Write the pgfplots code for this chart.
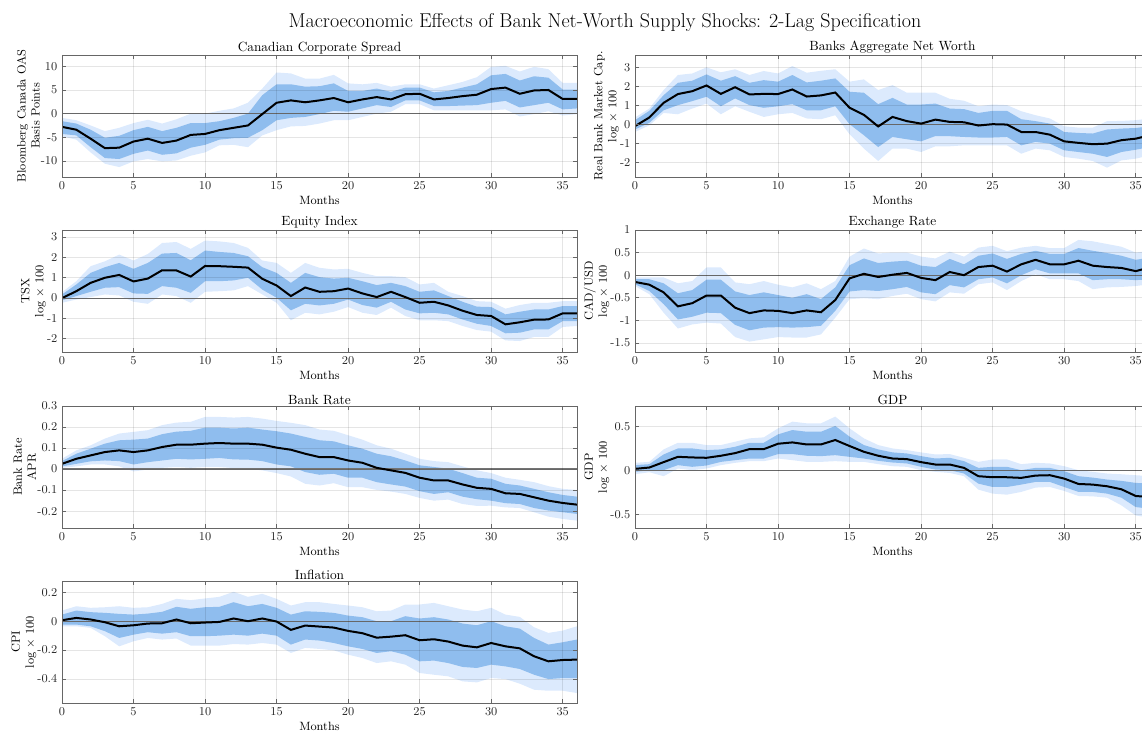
\documentclass[border=0pt]{standalone}
\usepackage{pgfplots}
\usepackage{pgfplotstable}
\pgfplotsset{compat=1.18}
\usepgfplotslibrary{fillbetween}
\definecolor{darkband}{RGB}{143,189,238}
\definecolor{lightband}{RGB}{220,234,253}

\pgfplotstableread{
x m dl du ll lu
0 -2.8 -4.3 -1.6 -4.8 -0.9
1 -3.4 -4.6 -2.1 -5.5 -1.4
2 -5.3 -7.1 -3.4 -8.2 -2.5
3 -7.3 -9.4 -5.1 -10.6 -3.7
4 -7.2 -9.6 -4.7 -11.3 -3.0
5 -5.9 -8.5 -3.5 -10.1 -2.0
6 -5.3 -7.8 -2.8 -9.6 -1.3
7 -6.2 -8.7 -3.7 -10.1 -2.1
8 -5.7 -8.4 -3.0 -9.9 -1.2
9 -4.5 -7.2 -2.0 -8.9 0.0
10 -4.3 -6.6 -2.0 -8.2 0.0
11 -3.5 -5.5 -1.6 -6.7 0.6
12 -3.0 -5.2 -0.9 -6.6 1.1
13 -2.5 -5.1 0.0 -7.1 2.3
14 -0.1 -3.5 3.9 -4.6 5.3
15 2.3 -1.4 6.2 -3.5 8.7
16 2.8 -0.9 6.2 -2.7 8.5
17 2.4 -0.7 5.7 -2.6 7.4
18 2.8 -0.1 5.8 -2.1 7.4
19 3.3 0.6 6.4 -1.4 8.2
20 2.4 0.4 4.8 -1.4 6.4
21 3.0 1.1 4.8 -0.7 6.2
22 3.5 1.8 5.3 0.0 6.5
23 3.0 1.4 4.6 0.4 5.7
24 4.1 2.8 5.5 2.0 6.2
25 4.2 2.8 5.5 2.0 6.2
26 3.0 1.6 4.5 0.7 5.3
27 3.3 1.6 4.8 0.7 6.0
28 3.7 1.7 5.5 0.7 6.7
29 4.0 1.8 6.2 0.7 7.7
30 5.2 2.3 8.1 0.7 9.9
31 5.5 2.7 8.4 0.9 10.1
32 4.2 1.3 7.0 -0.6 8.9
33 4.9 1.8 7.9 -0.1 9.9
34 5.0 2.3 7.6 0.5 9.4
35 3.1 0.9 5.1 -0.4 6.5
36 3.1 1.1 5.1 -0.1 6.5
}\tCS

\pgfplotstableread{
x m dl du ll lu
0 -0.08 -0.26 0.23 -0.39 0.37
1 0.37 0.09 0.72 -0.04 0.84
2 1.14 0.75 1.54 0.61 1.81
3 1.6 1.02 2.19 0.54 2.6
4 1.75 1.23 2.3 0.84 2.68
5 2.05 1.46 2.63 1.1 3.0
6 1.61 0.96 2.3 0.54 2.74
7 1.96 1.37 2.54 0.96 2.9
8 1.58 1.02 2.19 0.67 2.6
9 1.61 0.88 2.33 0.4 2.81
10 1.6 0.96 2.25 0.54 2.68
11 1.84 1.07 2.6 0.61 3.07
12 1.47 0.75 2.21 0.32 2.72
13 1.53 0.75 2.3 0.28 2.82
14 1.68 0.96 2.42 0.49 2.9
15 0.88 0.02 1.72 -0.51 2.25
16 0.51 -0.56 1.67 -1.26 2.37
17 -0.1 -1.18 1.07 -1.91 1.81
18 0.4 -0.65 1.4 -1.26 2.07
19 0.18 -0.77 1.05 -1.26 1.67
20 0.05 -0.88 1.05 -1.44 1.67
21 0.26 -0.6 1.1 -1.14 1.67
22 0.14 -0.61 0.84 -1.14 1.35
23 0.12 -0.65 0.81 -1.09 1.25
24 -0.05 -0.68 0.61 -1.09 0.96
25 0.02 -0.68 0.72 -1.09 1.05
26 0.0 -0.65 0.72 -1.09 1.02
27 -0.39 -1.09 0.28 -1.53 0.7
28 -0.39 -0.91 0.18 -1.26 0.49
29 -0.53 -1.0 0.05 -1.35 0.32
30 -0.88 -1.35 -0.39 -1.7 -0.09
31 -0.96 -1.44 -0.44 -1.79 -0.16
32 -1.03 -1.53 -0.47 -1.91 -0.16
33 -1.0 -1.7 -0.26 -2.26 0.18
34 -0.82 -1.44 -0.21 -1.88 0.19
35 -0.74 -1.32 -0.18 -1.79 0.23
36 -0.56 -1.18 -0.09 -1.61 0.32
}\tNW

\pgfplotstableread{
x m dl du ll lu
0 0 -0.11 0.18 -0.23 0.29
1 0.34 0.1 0.67 -0.07 0.83
2 0.75 0.31 1.24 0.05 1.57
3 1.0 0.51 1.52 0.18 1.81
4 1.14 0.54 1.73 0.13 2.14
5 0.82 0.23 1.44 -0.18 1.85
6 0.96 0.21 1.73 -0.28 2.17
7 1.37 0.59 2.19 0.18 2.71
8 1.36 0.51 2.22 0.1 2.76
9 1.06 0.26 1.86 -0.23 2.42
10 1.58 0.83 2.34 0.31 2.83
11 1.57 0.83 2.27 0.34 2.79
12 1.54 0.87 2.22 0.38 2.71
13 1.5 1.0 2.06 0.59 2.47
14 0.95 0.42 1.52 0.18 1.85
15 0.62 0.02 1.24 -0.23 1.73
16 0.1 -0.6 0.75 -1.09 1.24
17 0.52 -0.28 1.24 -0.72 1.73
18 0.31 -0.36 1.03 -0.8 1.49
19 0.34 -0.28 0.96 -0.67 1.41
20 0.47 -0.07 1.0 -0.44 1.44
21 0.23 -0.34 0.83 -0.72 1.24
22 0.05 -0.47 0.64 -0.83 1.08
23 0.31 -0.18 0.75 -0.47 1.08
24 0.05 -0.56 0.59 -0.88 1.03
25 -0.23 -0.75 0.31 -1.09 0.67
26 -0.18 -0.72 0.38 -1.09 0.75
27 -0.36 -0.8 0.1 -1.13 0.31
28 -0.62 -1.05 -0.18 -1.37 0.1
29 -0.83 -1.26 -0.42 -1.57 -0.15
30 -0.88 -1.37 -0.44 -1.65 -0.18
31 -1.29 -1.73 -0.8 -2.08 -0.52
32 -1.19 -1.7 -0.67 -2.11 -0.34
33 -1.06 -1.54 -0.56 -1.91 -0.23
34 -1.05 -1.54 -0.56 -1.91 -0.23
35 -0.75 -1.13 -0.39 -1.42 -0.15
36 -0.75 -1.13 -0.39 -1.37 -0.15
}\tEQ

\pgfplotstableread{
x m dl du ll lu
0 -0.15 -0.2 -0.09 -0.24 -0.05
1 -0.21 -0.35 -0.09 -0.42 -0.05
2 -0.38 -0.64 -0.18 -0.83 -0.05
3 -0.69 -0.98 -0.4 -1.18 -0.18
4 -0.62 -0.92 -0.33 -1.09 -0.13
5 -0.45 -0.83 -0.1 -1.05 0.17
6 -0.45 -0.84 -0.1 -1.07 0.17
7 -0.72 -1.1 -0.36 -1.37 -0.16
8 -0.84 -1.22 -0.44 -1.47 -0.2
9 -0.78 -1.16 -0.38 -1.42 -0.13
10 -0.79 -1.15 -0.44 -1.37 -0.21
11 -0.84 -1.16 -0.5 -1.38 -0.27
12 -0.78 -1.15 -0.42 -1.38 -0.18
13 -0.82 -1.12 -0.53 -1.31 -0.31
14 -0.55 -0.79 -0.27 -0.94 -0.13
15 -0.07 -0.36 0.22 -0.53 0.41
16 0.03 -0.33 0.37 -0.51 0.59
17 -0.04 -0.35 0.27 -0.53 0.48
18 0.01 -0.31 0.3 -0.46 0.5
19 0.05 -0.26 0.32 -0.41 0.5
20 -0.06 -0.38 0.21 -0.53 0.41
21 -0.11 -0.42 0.18 -0.58 0.37
22 0.07 -0.22 0.36 -0.38 0.52
23 0.0 -0.27 0.24 -0.41 0.41
24 0.18 -0.09 0.43 -0.2 0.61
25 0.21 -0.05 0.48 -0.16 0.65
26 0.08 -0.18 0.36 -0.33 0.53
27 0.24 0.0 0.47 -0.13 0.61
28 0.34 0.13 0.54 0.02 0.65
29 0.24 0.04 0.47 -0.09 0.6
30 0.24 0.04 0.47 -0.09 0.6
31 0.32 0.04 0.6 -0.13 0.78
32 0.21 -0.11 0.54 -0.31 0.75
33 0.18 -0.09 0.49 -0.27 0.69
34 0.16 -0.09 0.43 -0.26 0.63
35 0.09 -0.11 0.34 -0.24 0.5
36 0.17 -0.09 0.39 -0.2 0.54
}\tFX

\pgfplotstableread{
x m dl du ll lu
0 0.025 0.013 0.038 0.006 0.049
1 0.049 0.025 0.073 0.013 0.089
2 0.065 0.037 0.097 0.022 0.113
3 0.081 0.041 0.121 0.022 0.145
4 0.089 0.038 0.137 0.013 0.169
5 0.081 0.022 0.14 -0.011 0.177
6 0.089 0.033 0.145 -0.002 0.185
7 0.105 0.041 0.166 0.006 0.209
8 0.116 0.049 0.178 0.01 0.221
9 0.116 0.046 0.182 0.006 0.225
10 0.121 0.049 0.197 0.01 0.248
11 0.124 0.053 0.197 0.01 0.248
12 0.121 0.046 0.193 0.005 0.245
13 0.121 0.045 0.197 0.002 0.248
14 0.116 0.038 0.188 -0.006 0.24
15 0.102 0.022 0.18 -0.019 0.229
16 0.092 0.013 0.169 -0.035 0.22
17 0.073 -0.014 0.153 -0.07 0.209
18 0.057 -0.027 0.137 -0.078 0.188
19 0.057 -0.022 0.132 -0.067 0.182
20 0.041 -0.041 0.113 -0.086 0.161
21 0.03 -0.041 0.097 -0.086 0.14
22 0.006 -0.062 0.073 -0.099 0.113
23 -0.006 -0.073 0.061 -0.107 0.097
24 -0.018 -0.083 0.041 -0.118 0.073
25 -0.041 -0.105 0.018 -0.137 0.049
26 -0.054 -0.118 0.01 -0.15 0.038
27 -0.054 -0.11 0.002 -0.145 0.033
28 -0.073 -0.131 -0.019 -0.166 0.013
29 -0.089 -0.143 -0.041 -0.175 -0.006
30 -0.094 -0.15 -0.046 -0.174 -0.019
31 -0.115 -0.162 -0.07 -0.182 -0.041
32 -0.118 -0.166 -0.078 -0.185 -0.051
33 -0.134 -0.185 -0.094 -0.205 -0.062
34 -0.15 -0.197 -0.11 -0.226 -0.081
35 -0.161 -0.205 -0.123 -0.237 -0.094
36 -0.169 -0.213 -0.131 -0.245 -0.099
}\tBR

\pgfplotstableread{
x m dl du ll lu
0 0.019 -0.015 0.061 -0.042 0.087
1 0.034 0.004 0.072 -0.019 0.098
2 0.095 0.004 0.182 -0.064 0.239
3 0.155 0.061 0.25 0.023 0.314
4 0.148 0.042 0.25 0.004 0.314
5 0.144 0.057 0.231 0.023 0.288
6 0.167 0.098 0.239 0.061 0.288
7 0.197 0.117 0.269 0.087 0.326
8 0.242 0.136 0.314 0.106 0.364
9 0.242 0.136 0.314 0.106 0.375
10 0.303 0.186 0.409 0.136 0.477
11 0.318 0.186 0.458 0.117 0.553
12 0.295 0.167 0.439 0.098 0.534
13 0.295 0.163 0.439 0.098 0.534
14 0.345 0.174 0.504 0.106 0.61
15 0.277 0.155 0.383 0.098 0.477
16 0.212 0.136 0.288 0.098 0.364
17 0.167 0.11 0.239 0.072 0.288
18 0.136 0.091 0.205 0.049 0.25
19 0.129 0.08 0.193 0.042 0.231
20 0.095 0.042 0.163 0.004 0.205
21 0.068 0.011 0.136 -0.015 0.182
22 0.068 0.004 0.144 -0.027 0.186
23 0.03 -0.034 0.106 -0.064 0.144
24 -0.064 -0.148 0.03 -0.216 0.098
25 -0.076 -0.186 0.042 -0.261 0.125
26 -0.076 -0.186 0.042 -0.273 0.125
27 -0.083 -0.159 0.004 -0.242 0.072
28 -0.057 -0.129 0.03 -0.193 0.087
29 -0.053 -0.129 0.03 -0.186 0.08
30 -0.091 -0.186 -0.008 -0.231 0.049
31 -0.152 -0.242 -0.064 -0.288 0.004
32 -0.159 -0.242 -0.08 -0.292 -0.015
33 -0.178 -0.261 -0.102 -0.307 -0.034
34 -0.212 -0.307 -0.117 -0.394 -0.042
35 -0.288 -0.413 -0.14 -0.508 -0.053
36 -0.3 -0.432 -0.148 -0.534 -0.064
}\tGDP

\pgfplotstableread{
x m dl du ll lu
0 0.007 -0.023 0.046 -0.035 0.074
1 0.023 -0.023 0.074 -0.035 0.104
2 0.012 -0.035 0.063 -0.046 0.093
3 -0.007 -0.069 0.058 -0.104 0.097
4 -0.035 -0.116 0.051 -0.174 0.104
5 -0.028 -0.093 0.046 -0.139 0.093
6 -0.016 -0.076 0.053 -0.116 0.097
7 -0.014 -0.086 0.065 -0.127 0.12
8 0.012 -0.076 0.1 -0.12 0.155
9 -0.014 -0.104 0.086 -0.169 0.146
10 -0.009 -0.104 0.097 -0.169 0.158
11 -0.005 -0.1 0.1 -0.169 0.169
12 0.019 -0.093 0.132 -0.158 0.204
13 0.0 -0.1 0.104 -0.162 0.169
14 0.019 -0.086 0.12 -0.151 0.19
15 -0.002 -0.1 0.093 -0.162 0.155
16 -0.06 -0.162 0.046 -0.22 0.109
17 -0.03 -0.127 0.069 -0.185 0.132
18 -0.037 -0.134 0.065 -0.192 0.132
19 -0.044 -0.151 0.058 -0.202 0.12
20 -0.067 -0.174 0.039 -0.232 0.109
21 -0.083 -0.192 0.028 -0.255 0.097
22 -0.114 -0.22 0.0 -0.29 0.069
23 -0.107 -0.208 0.0 -0.278 0.074
24 -0.097 -0.232 0.035 -0.301 0.116
25 -0.132 -0.278 0.019 -0.359 0.116
26 -0.125 -0.273 0.028 -0.371 0.127
27 -0.141 -0.29 0.012 -0.382 0.104
28 -0.169 -0.317 -0.016 -0.417 0.081
29 -0.181 -0.324 -0.028 -0.424 0.069
30 -0.151 -0.301 0.0 -0.394 0.093
31 -0.174 -0.313 -0.035 -0.401 0.046
32 -0.188 -0.331 -0.051 -0.433 0.03
33 -0.243 -0.371 -0.116 -0.475 -0.042
34 -0.278 -0.401 -0.162 -0.482 -0.081
35 -0.269 -0.394 -0.146 -0.482 -0.065
36 -0.266 -0.394 -0.127 -0.498 -0.035
}\tCPI

\newcommand{\irfplots}[1]{%
  \addplot[name path=lu, draw=none, forget plot] table[x=x,y=lu]{#1};
  \addplot[name path=ll, draw=none, forget plot] table[x=x,y=ll]{#1};
  \addplot[fill=lightband, draw=none] fill between[of=lu and ll];
  \addplot[name path=du, draw=none, forget plot] table[x=x,y=du]{#1};
  \addplot[name path=dl, draw=none, forget plot] table[x=x,y=dl]{#1};
  \addplot[fill=darkband, draw=none] fill between[of=du and dl];
  \addplot[black!55, line width=0.9pt] coordinates {(0,0) (36,0)};
  \addplot[black, line width=1.5pt] table[x=x,y=m]{#1};
}

\pgfplotsset{irf/.style={
  scale only axis, width=386.25pt, height=91.5pt,
  anchor=south west,
  xmin=0, xmax=36, xtick={0,5,...,35},
  grid=major,
  major grid style={black, opacity=0.1, line width=0.5pt},
  axis line style={black!60, line width=0.6pt},
  tick style={black!60, line width=0.5pt},
  tick align=inside, major tick length=3pt,
  axis on top,
  xlabel={Months},
  tick label style={font=\fontsize{9}{10.5}\selectfont, text=black!85},
  label style={font=\fontsize{9}{10.5}\selectfont},
  xlabel style={yshift=2pt},
  title style={font=\fontsize{10}{12}\selectfont, yshift=-8.5pt},
  ylabel style={align=center},
  ylabel shift=-6pt,
  scaled y ticks=false,
  /pgf/number format/assume math mode=true,
  yticklabel style={/pgf/number format/fixed},
}}

\begin{document}
\begin{tikzpicture}

\node at (453.75pt,531pt) {\fontsize{15}{18}\selectfont Macroeconomic Effects of Bank Net-Worth Supply Shocks: 2-Lag Specification};

% Row 1
\begin{axis}[irf, at={(46.5pt,415.5pt)}, title={Canadian Corporate Spread},
  ymin=-13.4, ymax=12.4, ytick={-10,-5,0,5,10},
  ylabel={Bloomberg Canada OAS\\Basis Points}]
\irfplots{\tCS}
\end{axis}

\begin{axis}[irf, at={(476.25pt,415.5pt)}, title={Banks Aggregate Net Worth},
  ymin=-2.75, ymax=3.65, ytick={-2,-1,0,1,2,3},
  ylabel={Real Bank Market Cap.\\log $\times$ 100}]
\irfplots{\tNW}
\end{axis}

% Row 2
\begin{axis}[irf, at={(46.5pt,284.25pt)}, title={Equity Index},
  ymin=-2.65, ymax=3.35, ytick={-2,-1,0,1,2,3},
  ylabel={TSX\\log $\times$ 100}]
\irfplots{\tEQ}
\end{axis}

\begin{axis}[irf, at={(476.25pt,284.25pt)}, title={Exchange Rate},
  ymin=-1.7, ymax=1, ytick={-1.5,-1,-0.5,0,0.5,1},
  ylabel={CAD/USD\\log $\times$ 100}]
\irfplots{\tFX}
\end{axis}

% Row 3
\begin{axis}[irf, at={(46.5pt,152.25pt)}, title={Bank Rate},
  ymin=-0.28, ymax=0.3, ytick={-0.2,-0.1,0,0.1,0.2,0.3},
  ylabel={Bank Rate\\APR}]
\irfplots{\tBR}
\end{axis}

\begin{axis}[irf, at={(476.25pt,152.25pt)}, title={GDP},
  ymin=-0.65, ymax=0.73, ytick={-0.5,0,0.5},
  ylabel={GDP\\log $\times$ 100}]
\irfplots{\tGDP}
\end{axis}

% Row 4
\begin{axis}[irf, at={(46.5pt,21pt)}, title={Inflation},
  ymin=-0.567, ymax=0.279, ytick={-0.4,-0.2,0,0.2},
  ylabel={CPI\\log $\times$ 100}]
\irfplots{\tCPI}
\end{axis}

\pgfresetboundingbox
\useasboundingbox (0,0) rectangle (856.5pt,548.25pt);
\end{tikzpicture}
\end{document}
